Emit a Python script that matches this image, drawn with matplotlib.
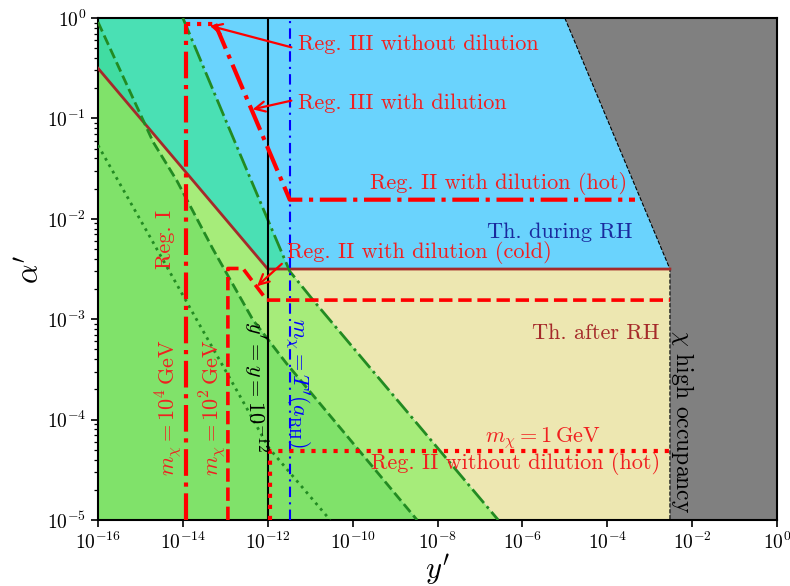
import numpy as np
import matplotlib
matplotlib.use("Agg")
import matplotlib.pyplot as plt
from matplotlib.patches import Polygon
from matplotlib.ticker import NullLocator, LogLocator

plt.rcParams['font.family'] = 'serif'
plt.rcParams['font.serif'] = ['cmr10']
plt.rcParams['mathtext.fontset'] = 'cm'
plt.rcParams['axes.formatter.use_mathtext'] = True
plt.rcParams['axes.unicode_minus'] = False

# ---------------- data ----------------
# green boundary curves (y', alpha')
dashed_green_y = [1e-16, 2.0e-15, 7.2e-15, 5.1e-14, 4.5e-13, 2.8e-12, 3.3e-9]
dashed_green_a = [0.91, 0.058, 0.024, 5.0e-3, 9.8e-4, 3.6e-4, 1e-5]

dashdot_green_y = [1e-14, 9.8e-14, 1.26e-12, 3.3e-12, 1.17e-11, 2.7e-7]
dashdot_green_a = [1.0, 0.1, 7.8e-3, 3.0e-3, 1.55e-3, 1e-5]

dotted_green_y = [1e-16, 1.68e-15, 1.95e-14, 2.24e-13, 1.07e-12, 2.95e-11]
dotted_green_a = [0.054, 6.6e-3, 1.05e-3, 1.7e-4, 5.2e-5, 1e-5]

# brown boundary (thermalisation)
brown_y = [1e-16, 1e-12, 3.0e-3]
brown_a = [0.316, 3.16e-3, 3.16e-3]

# high occupancy boundary
occ_y = [1e-5, 3.0e-3, 3.0e-3]
occ_a = [1.0, 3.16e-3, 1e-5]

# red curves
reg3_nodil_y = [1.17e-14, 1.17e-14, 6.3e-14]          # m_chi = 1e4 GeV
reg3_nodil_a = [1e-5, 0.87, 0.87]
reg3_dil_y = [5.8e-14, 3.3e-12, 4.5e-4]               # with dilution (hot)
reg3_dil_a = [0.87, 0.0155, 0.0155]
reg2_cold_y = [1.15e-13, 1.15e-13, 2.6e-13, 9.5e-13, 3.0e-3]   # m_chi = 1e2 GeV
reg2_cold_a = [1e-5, 3.2e-3, 3.2e-3, 1.55e-3, 1.55e-3]
reg2_hot_y = [1.12e-12, 1.12e-12, 3.0e-3]              # m_chi = 1 GeV
reg2_hot_a = [1e-5, 4.9e-5, 4.9e-5]

y_equal = 1e-12          # y' = y = 1e-12
y_trh = 3.3e-12          # m_chi = T'(a_RH)

xticks = [1e-16, 1e-14, 1e-12, 1e-10, 1e-8, 1e-6, 1e-4, 1e-2, 1]

# colours
c_cyan = '#6ad3fd'
c_teal = '#4ae0b4'
c_teal_d = '#41dca2'
c_lgreen = '#a6ec7a'
c_dgreen = '#80e26a'
c_khaki = '#ede7b1'
c_grey = '#808080'
c_green = '#228b22'
c_brown = '#a52a2a'

# ---------------- figure ----------------
fig = plt.figure(figsize=(7.9, 5.86), dpi=100)
ax = fig.add_axes([98/790, 1-520/586, 679/790, 502/586])
ax.set_xscale('log')
ax.set_yscale('log')
ax.set_xlim(1e-16, 1)
ax.set_ylim(1e-5, 1)
ax.set_facecolor(c_cyan)

xmin, xmax, ymin, ymax = 1e-16, 1, 1e-5, 1

P_dd = Polygon(list(zip(dashdot_green_y, dashdot_green_a)) + [(xmin, ymin), (xmin, ymax)],
               closed=True, transform=ax.transData)
P_dash_pts = list(zip(dashed_green_y, dashed_green_a)) + [(xmin, ymin)]
P_below = Polygon(list(zip(brown_y, brown_a)) + [(brown_y[-1], ymin), (xmin, ymin)],
                  closed=True, transform=ax.transData)

# khaki below brown
ax.fill(list(brown_y) + [brown_y[-1], xmin], list(brown_a) + [ymin, ymin],
        color=c_khaki, lw=0, zorder=0.5)
# teal left of dash-dot
ax.fill(list(dashdot_green_y) + [xmin, xmin], list(dashdot_green_a) + [ymin, ymax],
        color=c_teal, lw=0, zorder=0.6)
# light green below brown, left of dash-dot
f = ax.fill(list(brown_y) + [brown_y[-1], xmin], list(brown_a) + [ymin, ymin],
            color=c_lgreen, lw=0, zorder=0.7)[0]
f.set_clip_path(P_dd)
# darker teal left of dashed
ax.fill([p[0] for p in P_dash_pts], [p[1] for p in P_dash_pts],
        color=c_teal_d, lw=0, zorder=0.8)
# dark green left of dashed, below brown
f = ax.fill([p[0] for p in P_dash_pts], [p[1] for p in P_dash_pts],
            color=c_dgreen, lw=0, zorder=0.9)[0]
f.set_clip_path(P_below)
# grey high-occupancy region
ax.fill(list(occ_y) + [xmax, xmax], list(occ_a) + [ymin, ymax],
        color=c_grey, lw=0, zorder=1)
ax.plot(occ_y, occ_a, color='black', lw=0.8, ls='--', zorder=2)

# brown line
ax.plot(brown_y, brown_a, color=c_brown, lw=2, zorder=3)

# green lines
ax.plot(dashed_green_y, dashed_green_a, color=c_green, lw=2, ls='--', zorder=3)
ax.plot(dashdot_green_y, dashdot_green_a, color=c_green, lw=2, ls='-.', zorder=3)
ax.plot(dotted_green_y, dotted_green_a, color=c_green, lw=2, ls=':', zorder=3)

# vertical reference lines
ax.axvline(y_equal, color='black', lw=1.5, zorder=3)
ax.axvline(y_trh, color='blue', lw=1.5, ls=(0, (5, 2.5, 1, 2.5)), zorder=3)

# red lines
ax.plot(reg3_nodil_y[:2], reg3_nodil_a[:2], color='red', lw=3, ls='-.', zorder=4)
ax.plot(reg3_nodil_y[1:], reg3_nodil_a[1:], color='red', lw=3, ls=':', zorder=4)
ax.plot(reg3_dil_y, reg3_dil_a, color='red', lw=3, ls='-.', zorder=4)
ax.plot(reg2_cold_y, reg2_cold_a, color='red', lw=2.6, ls='--', zorder=4)
ax.plot(reg2_hot_y, reg2_hot_a, color='red', lw=3, ls=':', zorder=4)

# texts
fs = 16
red = '#f02020'
ax.text(5.1e-12, 0.55, 'Reg. III without dilution', color=red, fontsize=fs, ha='left', va='center', zorder=5)
ax.text(5.1e-12, 0.142, 'Reg. III with dilution', color=red, fontsize=fs, ha='left', va='center', zorder=5)
ax.text(10**-9.59, 10**-1.653, 'Reg. II with dilution (hot)', color=red, fontsize=fs, ha='left', va='center', zorder=5)
ax.text(10**-6.83, 10**-2.13, 'Th. during RH', color='#1a2a9e', fontsize=fs, ha='left', va='center', zorder=5)
ax.text(10**-11.55, 10**-2.34, 'Reg. II with dilution (cold)', color=red, fontsize=fs, ha='left', va='center', zorder=5)
ax.text(10**-2.76, 10**-3.137, 'Th. after RH', color=c_brown, fontsize=fs, ha='right', va='center', zorder=5)
ax.text(10**-2.22, 10**-3.108, r'$\chi$ high occupancy', color='black', fontsize=17, rotation=-90,
        ha='center', va='top', zorder=5)
ax.text(10**-6.88, 10**-4.18, r'$m_\chi = 1\,\mathrm{GeV}$', color=red, fontsize=fs, ha='left', va='center', zorder=5)
ax.text(10**-2.76, 10**-4.44, 'Reg. II without dilution (hot)', color=red, fontsize=fs, ha='right', va='center', zorder=5)
ax.text(10**-14.42, 10**-2.21, 'Reg. I', color=red, fontsize=fs, rotation=90, ha='center', va='center', zorder=5)
ax.text(10**-14.35, 10**-3.88, r'$m_\chi = 10^4\,\mathrm{GeV}$', color=red, fontsize=fs, rotation=90,
        ha='center', va='center', zorder=5)
ax.text(10**-13.29, 10**-3.88, r'$m_\chi = 10^2\,\mathrm{GeV}$', color=red, fontsize=fs, rotation=90,
        ha='center', va='center', zorder=5)
ax.text(10**-12.30, 10**-3.675, r"$y' = y = 10^{-12}$", color='black', fontsize=fs, rotation=-90,
        ha='center', va='center', zorder=5)
ax.text(10**-11.31, 10**-3.635, r"$m_\chi = T'(a_{\rm RH})$", color='blue', fontsize=fs, rotation=-90,
        ha='center', va='center', zorder=5)

# arrows
arrow_kw = dict(arrowstyle='->', color='red', lw=1.6, mutation_scale=18)
ax.annotate('', xy=(10**-13.43, 10**-0.07), xytext=(10**-11.38, 10**-0.299), arrowprops=arrow_kw, zorder=5)
ax.annotate('', xy=(10**-12.42, 10**-0.916), xytext=(10**-11.38, 10**-0.817), arrowprops=arrow_kw, zorder=5)
ax.annotate('', xy=(10**-12.30, 10**-2.69), xytext=(10**-11.62, 10**-2.43), arrowprops=arrow_kw, zorder=5)

# axes
ax.set_xticks(xticks)
ax.xaxis.set_minor_locator(NullLocator())
ax.yaxis.set_major_locator(LogLocator(base=10, numticks=10))
ax.yaxis.set_minor_locator(LogLocator(base=10, subs=np.arange(2, 10), numticks=20))
ax.tick_params(which='major', labelsize=14, length=5, width=1.2)
ax.tick_params(which='minor', length=3, width=0.9)
for s in ax.spines.values():
    s.set_linewidth(1.5)
ax.set_xlabel(r"$y'$", fontsize=22)
ax.xaxis.set_label_coords(0.5, -50/502)
ax.xaxis.label.set_verticalalignment('center')
ax.set_ylabel(r"$\alpha'$", fontsize=22)
ax.yaxis.set_label_coords(-68/679, 0.5)
ax.yaxis.label.set_verticalalignment('center')

fig.savefig('out.png', dpi=100)
